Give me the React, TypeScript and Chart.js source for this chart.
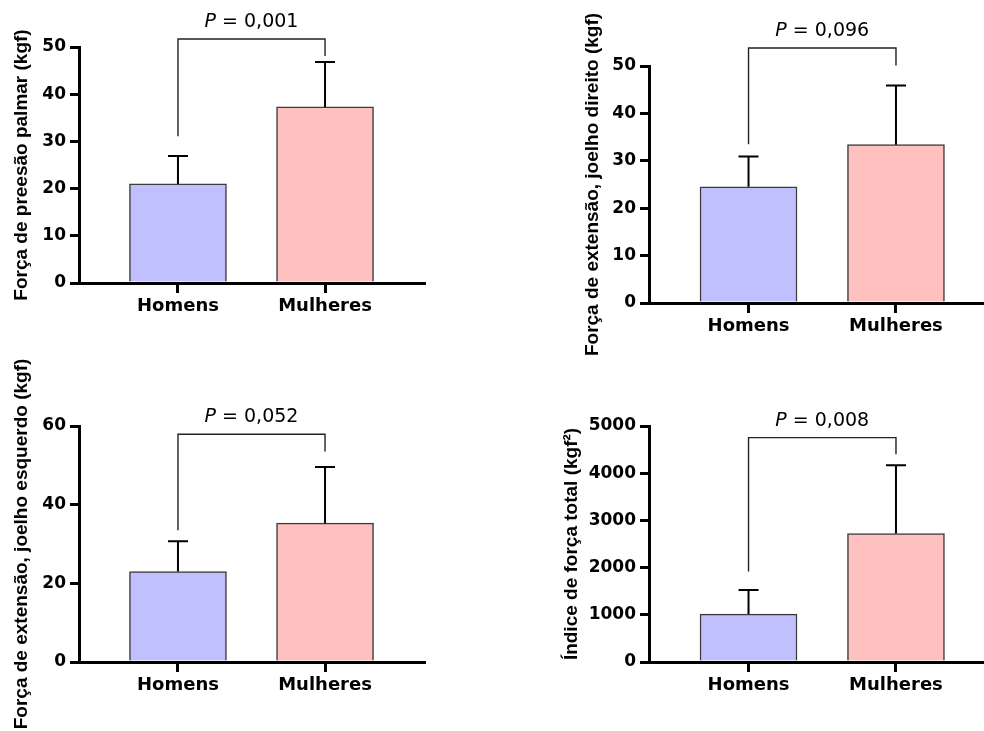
import React, { useEffect, useRef } from "react";
import { Chart, registerables } from "chart.js";

Chart.register(...registerables);

const categories = ["Homens", "Mulheres"];
const barColors = ["#C0C0FF", "#FFC0C0"];

const gripMeans = [21.0, 37.3];
const gripSD = [5.9, 9.5];
const rightKneeMeans = [24.5, 33.4];
const rightKneeSD = [6.4, 12.5];
const leftKneeMeans = [23.0, 35.3];
const leftKneeSD = [7.7, 14.3];
const totalMeans = [1015, 2720];
const totalSD = [508, 1448];

const pLabels = ["0,001", "0,096", "0,052", "0,008"];
// bracket: [left leg end, top, right leg end] in data units
const bracket1 = [31.1, 51.7, 48.1];
const bracket2 = [33.5, 53.8, 50.1];
const bracket3 = [33.5, 57.9, 53.5];
const bracket4 = [1917, 4753, 4401];

const yMax = [50, 50, 60, 5000];
const yStep = [10, 10, 20, 1000];
const yTitles = [
  "Força de preesão palmar (kgf)",
  "Força de extensão, joelho direito (kgf)",
  "Força de extensão, joelho esquerdo (kgf)",
  "Índice de força total (kgf²)",
];

type Panel = {
  means: number[];
  sd: number[];
  bracket: number[];
  p: string;
  yMax: number;
  yStep: number;
  title: string;
  pad: { left: number; top: number; right: number; bottom: number };
  xMin: number;
  xMax: number;
  titleOffset: number;
};

const panels: Panel[] = [
  { means: gripMeans, sd: gripSD, bracket: bracket1, p: pLabels[0], yMax: yMax[0], yStep: yStep[0], title: yTitles[0],
    pad: { left: 19, top: 47, right: 560, bottom: 398 }, xMin: -0.673, xMax: 1.673, titleOffset: 57 },
  { means: rightKneeMeans, sd: rightKneeSD, bracket: bracket2, p: pLabels[1], yMax: yMax[1], yStep: yStep[1], title: yTitles[1],
    pad: { left: 589, top: 66, right: 0, bottom: 378 }, xMin: -0.675, xMax: 1.597, titleOffset: 56 },
  { means: leftKneeMeans, sd: leftKneeSD, bracket: bracket3, p: pLabels[2], yMax: yMax[2], yStep: yStep[2], title: yTitles[2],
    pad: { left: 19, top: 426, right: 560, bottom: 19 }, xMin: -0.673, xMax: 1.673, titleOffset: 57 },
  { means: totalMeans, sd: totalSD, bracket: bracket4, p: pLabels[3], yMax: yMax[3], yStep: yStep[3], title: yTitles[3],
    pad: { left: 589, top: 426, right: 0, bottom: 19 }, xMin: -0.675, xMax: 1.597, titleOffset: 77 },
];

const tickFont = { family: "'DejaVu Sans', sans-serif", size: 17, weight: "bold" as const };
const xTickFont = { family: "'DejaVu Sans', sans-serif", size: 18, weight: "bold" as const };

function makePlugins(panel: Panel) {
  return [
    {
      id: "errbars",
      afterDatasetsDraw(chart: any) {
        const { ctx } = chart;
        const xs = chart.scales.x;
        const ys = chart.scales.y;
        ctx.save();
        ctx.strokeStyle = "#000";
        ctx.lineWidth = 2;
        panel.means.forEach((m, i) => {
          const x = xs.getPixelForValue(i);
          const y0 = ys.getPixelForValue(m);
          const y1 = ys.getPixelForValue(m + panel.sd[i]);
          ctx.beginPath();
          ctx.moveTo(x, y0);
          ctx.lineTo(x, y1);
          ctx.moveTo(x - 10, y1);
          ctx.lineTo(x + 10, y1);
          ctx.stroke();
        });
        ctx.restore();
      },
    },
    {
      id: "bracketTitle",
      afterDraw(chart: any) {
        const { ctx, chartArea } = chart;
        const xs = chart.scales.x;
        const ys = chart.scales.y;
        const [l, t, r] = panel.bracket;
        const x0 = xs.getPixelForValue(0);
        const x1 = xs.getPixelForValue(1);
        const yT = ys.getPixelForValue(t);
        ctx.save();
        ctx.strokeStyle = "#222";
        ctx.lineWidth = 1.4;
        ctx.beginPath();
        ctx.moveTo(x0, ys.getPixelForValue(l));
        ctx.lineTo(x0, yT);
        ctx.lineTo(x1, yT);
        ctx.lineTo(x1, ys.getPixelForValue(r));
        ctx.stroke();

        // P text
        const cx = (x0 + x1) / 2;
        const ty = yT - 17;
        ctx.fillStyle = "#000";
        ctx.textBaseline = "middle";
        const fItal = "italic 19px 'DejaVu Sans', sans-serif";
        const fReg = "19px 'DejaVu Sans', sans-serif";
        ctx.font = fItal;
        const wP = ctx.measureText("P").width;
        ctx.font = fReg;
        const rest = " = " + panel.p;
        const wR = ctx.measureText(rest).width;
        const start = cx - (wP + wR) / 2;
        ctx.textAlign = "left";
        ctx.font = fItal;
        ctx.fillText("P", start, ty);
        ctx.font = fReg;
        ctx.fillText(rest, start + wP, ty);

        // Y title
        ctx.translate(chartArea.left - panel.titleOffset, (chartArea.top + chartArea.bottom) / 2);
        ctx.rotate(-Math.PI / 2);
        ctx.textAlign = "center";
        ctx.textBaseline = "middle";
        ctx.font = "bold 19px 'Liberation Sans', Arial, sans-serif";
        ctx.fillText(panel.title, 0, 0);
        ctx.restore();
      },
    },
  ];
}

function PanelChart({ panel }: { panel: Panel }) {
  const ref = useRef<HTMLCanvasElement | null>(null);
  useEffect(() => {
    if (!ref.current) return;
    const chart = new Chart(ref.current, {
      type: "bar",
      data: {
        datasets: [
          {
            data: panel.means.map((m, i) => ({ x: i, y: m })),
            backgroundColor: barColors,
            borderColor: "#3c3c3c",
            borderWidth: 1.5,
            barThickness: 97,
          } as any,
        ],
      },
      options: {
        animation: false,
        responsive: false,
        devicePixelRatio: 1,
        layout: { padding: panel.pad },
        plugins: { legend: { display: false }, tooltip: { enabled: false } },
        scales: {
          x: {
            type: "linear",
            min: panel.xMin,
            max: panel.xMax,
            offset: false,
            afterBuildTicks: (s: any) => {
              s.ticks = categories.map((_, i) => ({ value: i }));
            },
            afterFit: (s: any) => {
              s.height = 50;
            },
            ticks: {
              callback: (v: any) => categories[v as number] ?? "",
              font: xTickFont,
              color: "#000",
              padding: 3,
              autoSkip: false,
              maxRotation: 0,
            },
            grid: { offset: false, drawOnChartArea: false, drawTicks: true, tickLength: 10, lineWidth: 3, color: "#000" },
            border: { color: "#000", width: 3 },
          },
          y: {
            min: 0,
            max: panel.yMax,
            afterFit: (s: any) => {
              s.width = 60;
            },
            ticks: {
              stepSize: panel.yStep,
              font: tickFont,
              color: "#000",
              padding: 4,
              callback: (v: any) => String(v),
            },
            grid: { drawOnChartArea: false, drawTicks: true, tickLength: 9, lineWidth: 3, color: "#000" },
            border: { color: "#000", width: 3 },
          },
        } as any,
      },
      plugins: makePlugins(panel) as any,
    });
    return () => chart.destroy();
  }, [panel]);
  return (
    <canvas
      ref={ref}
      width={984}
      height={731}
      style={{ position: "absolute", left: 0, top: 0, width: 984, height: 731 }}
    />
  );
}

export default function App() {
  return (
    <div style={{ position: "absolute", left: 0, top: 0, width: 984, height: 731, background: "#fff" }}>
      {panels.map((p, i) => (
        <PanelChart key={i} panel={p} />
      ))}
    </div>
  );
}
